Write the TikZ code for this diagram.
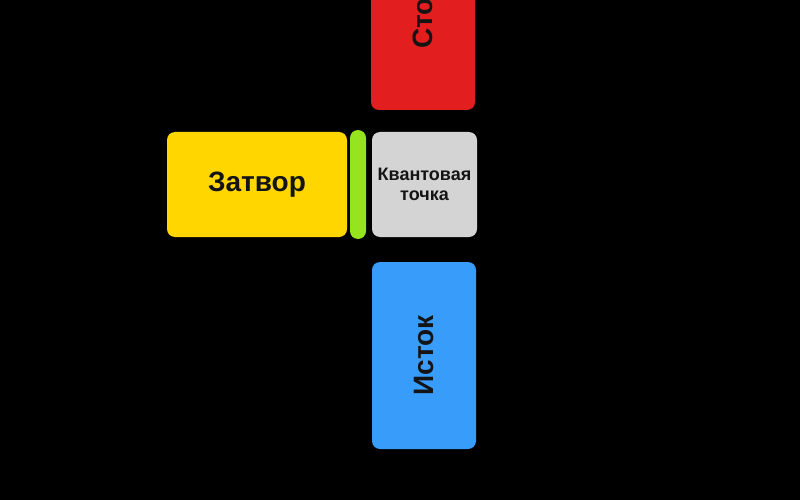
\documentclass[tikz,border=0pt]{standalone}
\usepackage{fontspec}
\setmainfont{Liberation Sans}
\usepackage{tikz}

\definecolor{drainred}{RGB}{226,30,30}
\definecolor{gateyellow}{RGB}{255,214,0}
\definecolor{oxidegreen}{RGB}{150,228,30}
\definecolor{dotgray}{RGB}{212,212,212}
\definecolor{sourceblue}{RGB}{56,156,250}
\definecolor{labelink}{RGB}{20,20,20}

\begin{document}
\begin{tikzpicture}[x=1pt, y=-1pt]
    % Styles
    \tikzstyle{region} = [rectangle, draw=none, rounded corners=8pt, inner sep=0pt, align=center, text=labelink, font=\bfseries]
    \tikzstyle{biglabel} = [font=\bfseries\fontsize{28}{34}\selectfont]
    \tikzstyle{smalllabel} = [font=\bfseries\fontsize{18}{20}\selectfont]

    % Background
    \fill[black] (0,0) rectangle (800,500);
    \clip (0,0) rectangle (800,500);

    % Nodes
    \node[region, biglabel, fill=drainred, rotate=90, minimum width=187pt, minimum height=104pt] (drain) at (423, 16.5) {Сток};
    \node[region, biglabel, fill=gateyellow, minimum width=180pt, minimum height=105pt] (gate) at (257, 184.5) {Затвор};
    \node[region, fill=oxidegreen, minimum width=16pt, minimum height=109pt] (oxide) at (358, 184.5) {};
    \node[region, smalllabel, fill=dotgray, minimum width=105pt, minimum height=105pt] (dot) at (424.5, 184.5) {Квантовая\\точка};
    \node[region, biglabel, fill=sourceblue, rotate=90, minimum width=187pt, minimum height=104pt] (source) at (424, 355.5) {Исток};
\end{tikzpicture}
\end{document}
